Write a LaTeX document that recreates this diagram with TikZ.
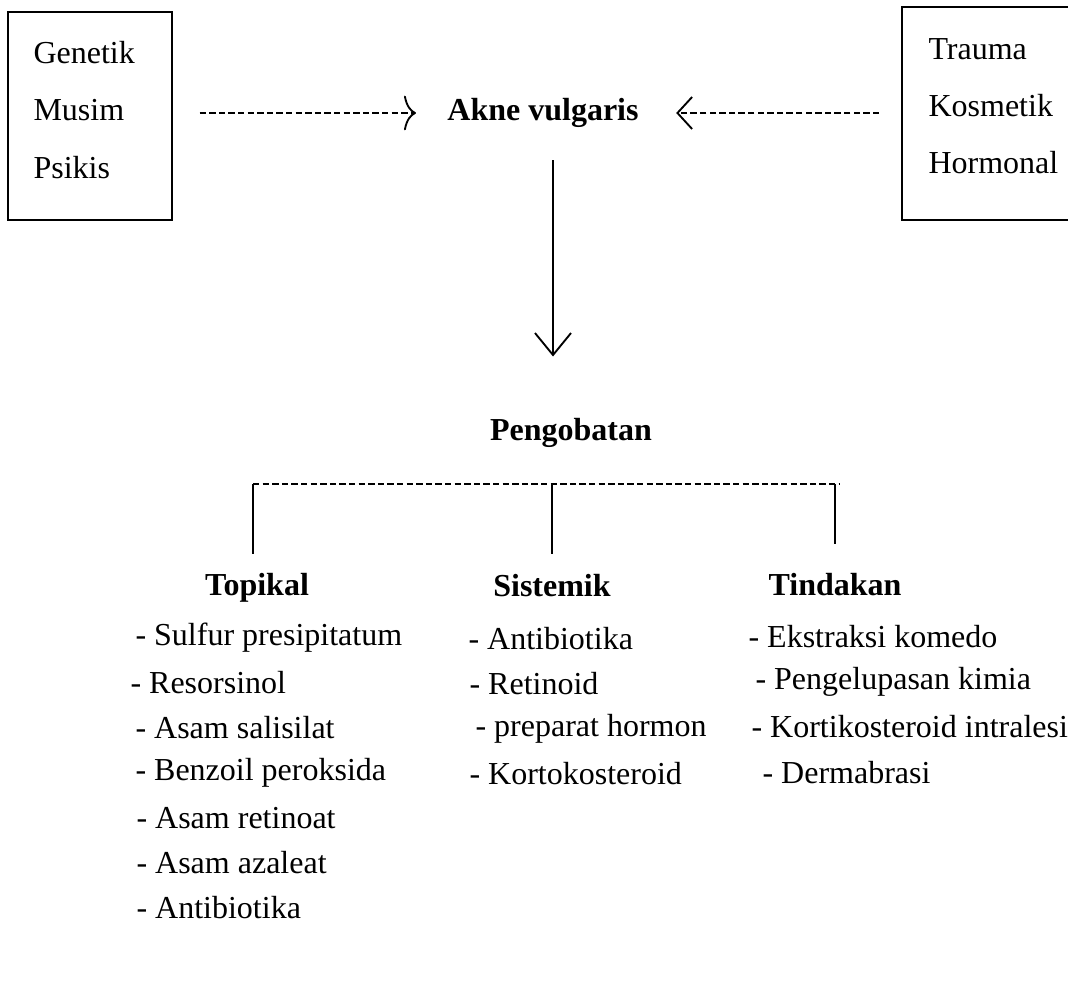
\documentclass[tikz,border=0pt]{standalone}
\usepackage{fontspec}
\setmainfont{Liberation Serif}
\usetikzlibrary{arrows.meta}

\begin{document}
\begin{tikzpicture}[
  x=0.375pt, y=-0.375pt,
  every node/.style={font=\fontsize{12}{14}\selectfont, inner sep=0pt},
  faktor/.style={rectangle, draw, line width=0.7pt},
  daftar/.style={anchor=west, align=left, font=\fontsize{12}{21.4}\selectfont},
  judul/.style={font=\fontsize{12}{14}\selectfont\bfseries},
  butir/.style={anchor=west},
  putus/.style={line width=0.7pt, dash pattern=on 2.4pt off 1.2pt},
  garis/.style={line width=0.7pt},
  panahkiri/.style={putus, -{To[length=4.5pt, width=13pt]}},
  panahkanan/.style={putus, -{Straight Barb[length=5.5pt, width=12pt]}},
  panahturun/.style={garis, -{Straight Barb[length=8.25pt, width=13.5pt]}}
]
\useasboundingbox (0,0) rectangle (1068,1001);

% Faktor pencetus
\node[faktor, minimum width=61.5pt, minimum height=78pt] (kiri) at (90,116) {};
\node[daftar] (kiriTeks) at (33,110) {Genetik\\Musim\\Psikis};
\node[faktor, minimum width=66.75pt, minimum height=79.9pt] (kanan) at (991,113.5) {};
\node[daftar] (kananTeks) at (928,106) {Trauma\\Kosmetik\\Hormonal};

\node[judul] (akne) at (543,113) {Akne vulgaris};

\draw[panahkiri] (kiri.east |- akne.west) -- (akne.west) [shorten <=10pt, shorten >=11.6pt];
\draw[panahkanan] (kanan.west |- akne.east) -- (akne.east) [shorten <=8.2pt, shorten >=13.9pt];

% Pengobatan
\node[judul] (obat) at (571,433) {Pengobatan};
\draw[panahturun, shorten <=12pt, shorten >=23pt] ([xshift=3.75pt]akne.south) -- ([xshift=-6.75pt]obat.north);

\node[judul] (topikal) at (257,588) {Topikal};
\node[judul] (sistemik) at (552,586) {Sistemik};
\node[judul] (tindakan) at (835,585) {Tindakan};

\coordinate (bagi) at (555,484);
\draw[putus] ([xshift=-1.5pt]topikal.north |- bagi) -- ([xshift=2pt]tindakan.north |- bagi);
\draw[garis, shorten >=7pt] ([xshift=-1.5pt]topikal.north |- bagi) -- ([xshift=-1.5pt]topikal.north);
\draw[garis, shorten >=7.5pt] (sistemik.north |- bagi) -- (sistemik.north);
\draw[garis, shorten >=11pt] (tindakan.north |- bagi) -- (tindakan.north);

% Topikal
\node[butir] (top1) at (135,638) {- Sulfur presipitatum};
\node[butir] (top2) at (130,683) {- Resorsinol};
\node[butir] (top3) at (135,728) {- Asam salisilat};
\node[butir] (top4) at (135,773) {- Benzoil peroksida};
\node[butir] (top5) at (136,818) {- Asam retinoat};
\node[butir] (top6) at (136,863) {- Asam azaleat};
\node[butir] (top7) at (136,908) {- Antibiotika};

% Sistemik
\node[butir] (sis1) at (468,639) {- Antibiotika};
\node[butir] (sis2) at (469,684) {- Retinoid};
\node[butir] (sis3) at (475,729) {- preparat hormon};
\node[butir] (sis4) at (469,774) {- Kortokosteroid};

% Tindakan
\node[butir] (tin1) at (748,637) {- Ekstraksi komedo};
\node[butir] (tin2) at (755,682) {- Pengelupasan kimia};
\node[butir] (tin3) at (751,727) {- Kortikosteroid intralesi};
\node[butir] (tin4) at (762,773) {- Dermabrasi};

\end{tikzpicture}
\end{document}
